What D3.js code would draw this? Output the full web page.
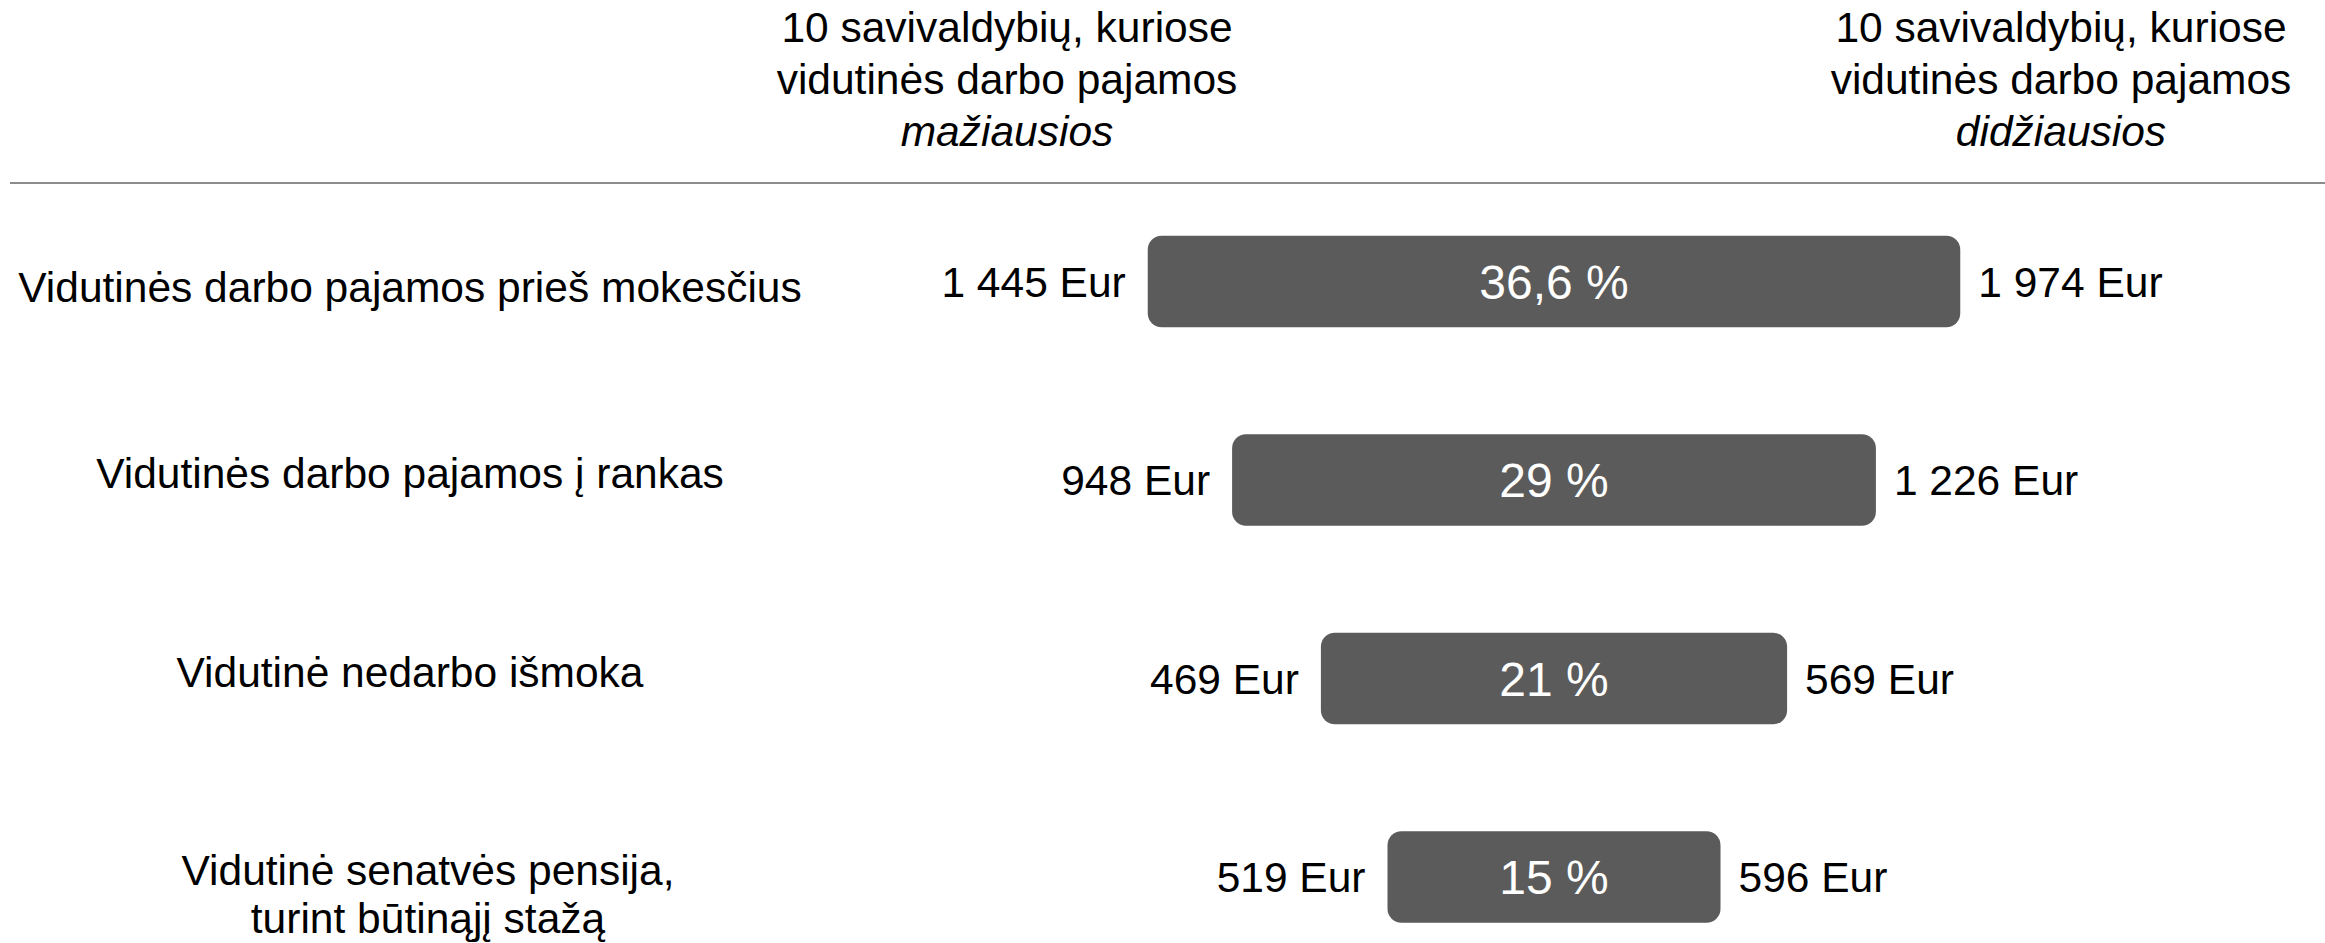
<!DOCTYPE html>
<html>
<head>
<meta charset="utf-8">
<script src="https://cdn.jsdelivr.net/npm/d3@7/dist/d3.min.js"></script>
<style>
  html, body { margin: 0; padding: 0; background: #ffffff; }
  svg { display: block; }
  text { font-family: "Liberation Sans", Arial, Helvetica, sans-serif; }
</style>
</head>
<body>
<svg id="chart" width="2325" height="943"></svg>
<script>
// Indicators compared between the two municipality groups
const categories = [
  "Vidutinės darbo pajamos prieš mokesčius",
  "Vidutinės darbo pajamos į rankas",
  "Vidutinė nedarbo išmoka",
  "Vidutinė senatvės pensija,\nturint būtinąjį stažą"
];
// Average amount (Eur) in the 10 lowest-income municipalities
const lowValues = [1445, 948, 469, 519];
// Average amount (Eur) in the 10 highest-income municipalities
const highValues = [1974, 1226, 569, 596];
// Gap between the two groups, %
const gapPercent = [36.6, 29, 21, 15];
// Column headings
const headLow = ["10 savivaldybių, kuriose", "vidutinės darbo pajamos", "mažiausios"];
const headHigh = ["10 savivaldybių, kuriose", "vidutinės darbo pajamos", "didžiausios"];

const W = 2325, H = 943;
const svg = d3.select("#chart");

const ltLocale = d3.formatLocale({ decimal: ",", thousands: " ", grouping: [3], currency: ["", " Eur"] });
const fmtEur = v => ltLocale.format(",d")(v) + " Eur";
const fmtPct = v => ltLocale.format(",")(v) + " %";

const fs = 42.5;      // body text size
const fsPct = 48;     // percentage label size
const barCx = 1554;   // bars are centred on this x
const barH = 91.5;
const labelX = 410;

// row positions
const y = d3.scalePoint().domain(d3.range(categories.length)).range([281.5, 877]);
// bar length from the gap percentage
const w = d3.scaleLinear().domain([0, 40]).range([0, 888]);

// Headings
function heading(lines, cx) {
  const t = svg.append("text")
    .attr("text-anchor", "middle")
    .attr("font-size", fs)
    .attr("fill", "#000");
  lines.forEach((ln, i) => {
    t.append("tspan")
      .attr("x", cx)
      .attr("y", 41.5 + i * 52)
      .attr("font-style", i === lines.length - 1 ? "italic" : "normal")
      .text(ln);
  });
}
heading(headLow, 1007);
heading(headHigh, 2061);

// Separator rule
svg.append("line")
  .attr("x1", 10).attr("x2", W)
  .attr("y1", 183).attr("y2", 183)
  .attr("stroke", "#666").attr("stroke-width", 1.6);

const rows = svg.selectAll("g.row")
  .data(categories.map((c, i) => ({ c, i, lo: lowValues[i], hi: highValues[i], p: gapPercent[i] })))
  .join("g").attr("class", "row");

// Bars
rows.append("rect")
  .attr("x", d => barCx - w(d.p) / 2)
  .attr("y", d => y(d.i) - barH / 2)
  .attr("width", d => w(d.p))
  .attr("height", barH)
  .attr("rx", 14).attr("ry", 14)
  .attr("fill", "#5b5b5b");

// Percentage inside the bar
rows.append("text")
  .attr("x", barCx)
  .attr("y", d => y(d.i) + fsPct * 0.358)
  .attr("text-anchor", "middle")
  .attr("font-size", fsPct)
  .attr("fill", "#ffffff")
  .text(d => fmtPct(d.p));

// Low-group amount, left of the bar
rows.append("text")
  .attr("x", d => barCx - w(d.p) / 2 - 22)
  .attr("y", d => y(d.i) + fs * 0.358)
  .attr("text-anchor", "end")
  .attr("font-size", fs)
  .attr("fill", "#000")
  .text(d => fmtEur(d.lo));

// High-group amount, right of the bar
rows.append("text")
  .attr("x", d => barCx + w(d.p) / 2 + 18)
  .attr("y", d => y(d.i) + fs * 0.358)
  .attr("text-anchor", "start")
  .attr("font-size", fs)
  .attr("fill", "#000")
  .text(d => fmtEur(d.hi));

// Category labels
rows.each(function(d) {
  const lines = d.c.split("\n");
  const cx = labelX + (lines.length > 1 ? 18 : 0);
  const dy = d.i === 0 ? 20 : 8;
  const t = d3.select(this).append("text")
    .attr("text-anchor", "middle")
    .attr("font-size", fs)
    .attr("fill", "#000");
  lines.forEach((ln, k) => {
    t.append("tspan")
      .attr("x", cx)
      .attr("y", y(d.i) + dy + k * 48)
      .text(ln);
  });
});
</script>
</body>
</html>
